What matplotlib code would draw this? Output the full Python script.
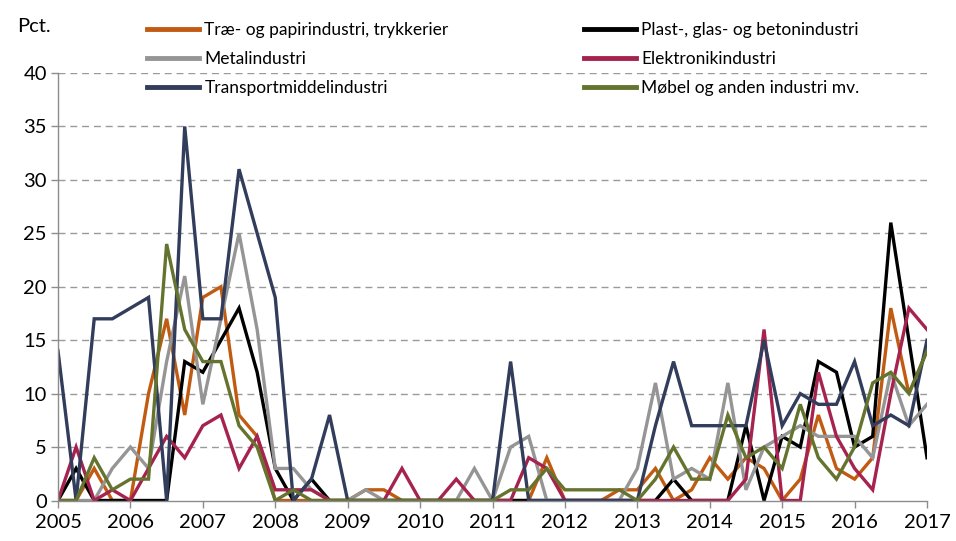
import matplotlib
matplotlib.use("Agg")
import matplotlib.pyplot as plt
import numpy as np

# Quarterly observations 2005Q1 .. 2017Q1
start_year = 2005
years = list(range(2005, 2018))
yticks = [0, 5, 10, 15, 20, 25, 30, 35, 40]

trae = [0, 0, 3, 0, 0, 10, 17, 8, 19, 20, 8, 6, 0, 0, 0, 0, 0, 1, 1, 0,
        0, 0, 0, 0, 0, 0, 0, 4, 0, 0, 0, 1, 1, 3, 0, 1, 4, 2, 4, 3,
        0, 2, 8, 3, 2, 4, 18, 10, 14]
plast = [0, 3, 0, 0, 0, 0, 0, 13, 12, 15, 18, 12, 3, 0, 2, 0, 0, 0, 0, 0,
         0, 0, 0, 0, 0, 0, 0, 0, 0, 0, 0, 0, 0, 0, 2, 0, 0, 0, 7, 0,
         6, 5, 13, 12, 5, 6, 26, 15, 4]
metal = [0, 0, 0, 3, 5, 3, 13, 21, 9, 17, 25, 16, 3, 3, 1, 0, 0, 1, 0, 0,
         0, 0, 0, 3, 0, 5, 6, 0, 0, 0, 0, 0, 3, 11, 2, 3, 2, 11, 1, 5,
         6, 7, 6, 6, 6, 4, 12, 7, 9]
elektronik = [0, 5, 0, 1, 0, 3, 6, 4, 7, 8, 3, 6, 1, 1, 1, 0, 0, 0, 0, 3,
              0, 0, 2, 0, 0, 0, 4, 3, 0, 0, 0, 0, 0, 0, 0, 0, 0, 0, 2, 16,
              0, 0, 12, 6, 3, 1, 10, 18, 16]
transport = [14, 0, 17, 17, 18, 19, 0, 35, 17, 17, 31, 25, 19, 0, 2, 8, 0, 0, 0, 0,
             0, 0, 0, 0, 0, 13, 0, 0, 0, 0, 0, 0, 0, 7, 13, 7, 7, 7, 7, 15,
             7, 10, 9, 9, 13, 7, 8, 7, 15]
moebel = [0, 0, 4, 1, 2, 2, 24, 16, 13, 13, 7, 5, 0, 1, 0, 0, 0, 0, 0, 0,
          0, 0, 0, 0, 0, 1, 1, 3, 1, 1, 1, 1, 0, 2, 5, 2, 2, 8, 4, 5,
          3, 9, 4, 2, 5, 11, 12, 10, 14]

labels = ["Træ- og papirindustri, trykkerier", "Plast-, glas- og betonindustri",
          "Metalindustri", "Elektronikindustri",
          "Transportmiddelindustri", "Møbel og anden industri mv."]
series = [trae, plast, metal, elektronik, transport, moebel]
colors = ["#C25B12", "#000000", "#959595", "#A5234E", "#323D5C", "#64742F"]

plt.rcParams['font.family'] = ['Lato', 'DejaVu Sans']

fig = plt.figure(figsize=(9.56, 5.41), dpi=100)
ax = fig.add_axes([58/956, 40.5/541, 869/956, 427.5/541])

n = len(trae)
x = start_year + np.arange(n) / 4.0
handles = {}
for lab, s, c in zip(labels, series, colors):
    h, = ax.plot(x, s, color=c, lw=2.4, solid_joinstyle='miter', label=lab)
    handles[lab] = h

ax.set_xlim(2005, 2017)
ax.set_ylim(0, 40)
ax.set_xticks(years)
ax.set_xticklabels([str(y) for y in years])
ax.set_yticks(yticks)
ax.set_yticklabels([str(v) for v in yticks])
for v in yticks[1:]:
    ax.axhline(v, color="#9A9A9A", lw=1.0, ls=(0, (5, 3.5)), zorder=0)

for sp in ['top', 'right']:
    ax.spines[sp].set_visible(False)
for sp in ['left', 'bottom']:
    ax.spines[sp].set_color("#8C8C8C")
    ax.spines[sp].set_linewidth(1.0)
ax.tick_params(axis='both', colors="#8C8C8C", labelcolor="black",
               labelsize=14.5, length=5, width=1, direction='out')
ax.tick_params(axis='x', pad=5)
ax.tick_params(axis='y', pad=3)

fig.text(17/956, 1 - 26/541, "Pct.", fontsize=14.5, va='center', ha='left')

order = [labels[0], labels[2], labels[4], labels[1], labels[3], labels[5]]
leg = fig.legend([handles[l] for l in order], order, ncol=2,
                 loc='upper left', bbox_to_anchor=(147/956, 1 - 22/541),
                 frameon=False, fontsize=12.5, handlelength=3.0,
                 handletextpad=0.3, columnspacing=7.8, labelspacing=0.75,
                 borderaxespad=0, borderpad=0)
for line in leg.get_lines():
    line.set_linewidth(3.5)

fig.savefig("out.png", dpi=100)
